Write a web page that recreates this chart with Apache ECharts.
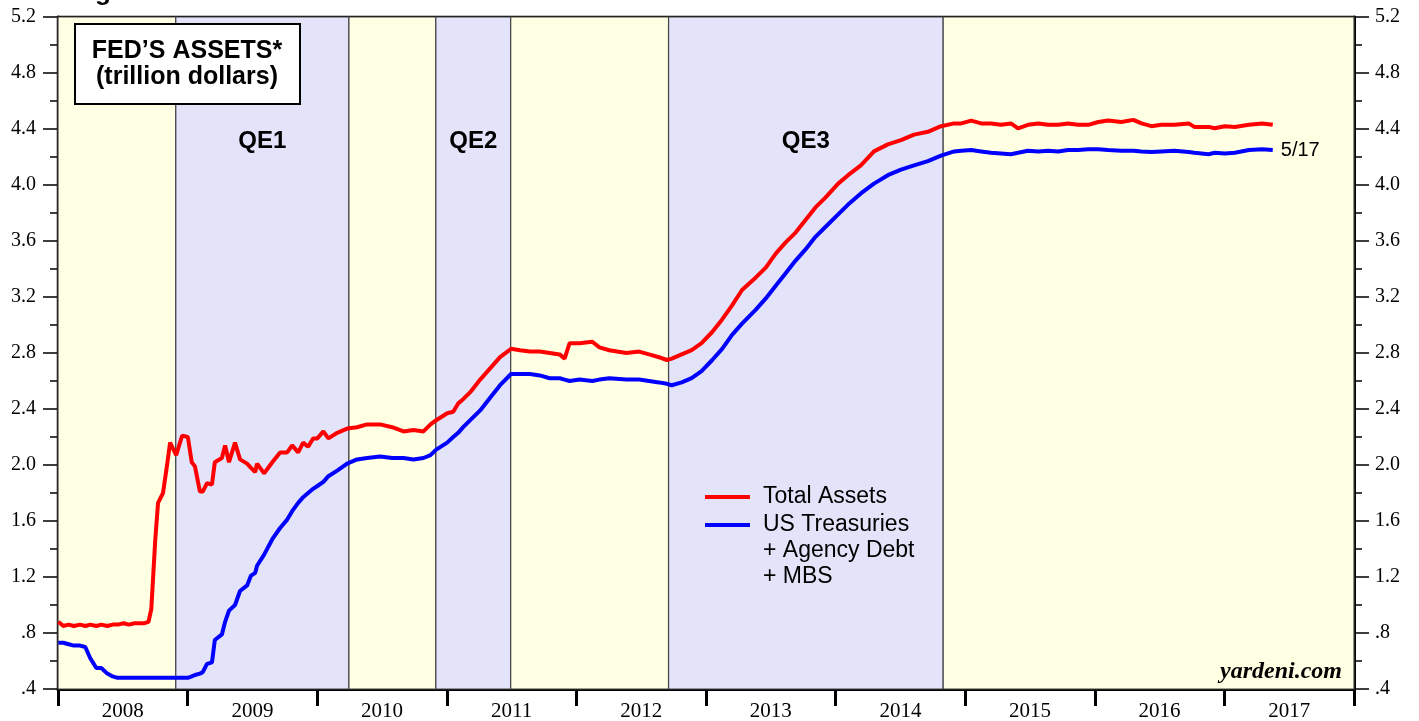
<!DOCTYPE html>
<html>
<head>
<meta charset="utf-8">
<script src="https://cdn.jsdelivr.net/npm/echarts@6/dist/echarts.min.js"></script>
<style>
  html, body { margin: 0; padding: 0; background: #fff; }
  #main { width: 1419px; height: 721px; }
</style>
</head>
<body>
<div id="main"></div>
<script>
// points (trillion dollars)
const dates = [
  '2008-01-02','2008-01-16','2008-01-31','2008-02-15','2008-03-03','2008-03-18','2008-04-01','2008-04-18',
  '2008-05-02','2008-05-19','2008-06-03','2008-06-17','2008-07-04','2008-07-18','2008-08-04','2008-08-18',
  '2008-09-01','2008-09-12','2008-09-20','2008-10-01','2008-10-09','2008-10-23','2008-11-04','2008-11-12',
  '2008-11-29','2008-12-16','2009-01-01','2009-01-12','2009-01-21','2009-02-04','2009-02-12','2009-02-24',
  '2009-03-10','2009-03-18','2009-04-07','2009-04-16','2009-04-27','2009-05-14','2009-05-28','2009-06-17',
  '2009-06-28','2009-07-10','2009-07-15','2009-08-04','2009-08-27','2009-09-18','2009-10-08','2009-10-22',
  '2009-11-08','2009-11-22','2009-12-06','2009-12-20','2010-01-01','2010-01-18','2010-02-01','2010-02-26',
  '2010-03-26','2010-04-23','2010-05-21','2010-06-27','2010-07-31','2010-09-01','2010-09-29','2010-10-27',
  '2010-11-16','2010-12-02','2011-01-02','2011-01-19','2011-02-02','2011-02-16','2011-03-08','2011-04-05',
  '2011-05-03','2011-05-31','2011-07-01','2011-07-26','2011-08-23','2011-09-20','2011-10-18','2011-11-15',
  '2011-11-29','2011-12-13','2012-01-10','2012-02-15','2012-03-06','2012-04-03','2012-05-21','2012-06-26',
  '2012-07-24','2012-08-21','2012-09-12','2012-09-26','2012-10-24','2012-11-21','2012-12-19','2013-01-18',
  '2013-02-15','2013-03-15','2013-04-12','2013-05-21','2013-06-18','2013-07-16','2013-08-13','2013-09-10',
  '2013-10-08','2013-11-05','2013-12-03','2014-01-08','2014-02-05','2014-03-13','2014-04-19','2014-05-28',
  '2014-07-04','2014-08-10','2014-09-18','2014-10-25','2014-12-01','2014-12-21','2015-01-18','2015-02-15',
  '2015-03-15','2015-04-12','2015-05-10','2015-05-30','2015-06-27','2015-07-26','2015-08-23','2015-09-20',
  '2015-10-18','2015-11-15','2015-12-14','2016-01-11','2016-02-08','2016-03-16','2016-04-19','2016-05-12',
  '2016-06-09','2016-07-07','2016-08-13','2016-09-22','2016-10-08','2016-11-17','2016-12-04','2017-01-02',
  '2017-01-30','2017-03-11','2017-04-17','2017-05-17'
];
const totalAssets = [
  0.88,0.85,0.86,0.85,0.86,0.85,0.86,0.85,
  0.86,0.85,0.86,0.86,0.87,0.86,0.87,0.87,
  0.87,0.88,0.97,1.46,1.73,1.80,2.01,2.16,
  2.07,2.21,2.20,2.02,1.99,1.81,1.81,1.87,
  1.86,2.02,2.05,2.14,2.02,2.16,2.04,2.01,
  1.98,1.95,2.01,1.94,2.02,2.09,2.09,2.14,
  2.09,2.16,2.13,2.19,2.19,2.24,2.19,2.23,
  2.26,2.27,2.29,2.29,2.27,2.24,2.25,2.24,
  2.29,2.32,2.37,2.38,2.44,2.47,2.52,2.61,
  2.69,2.77,2.83,2.82,2.81,2.81,2.80,2.79,
  2.76,2.87,2.87,2.88,2.84,2.82,2.80,2.81,
  2.79,2.77,2.75,2.76,2.79,2.82,2.87,2.95,
  3.04,3.14,3.25,3.34,3.41,3.51,3.59,3.66,
  3.75,3.84,3.91,4.01,4.07,4.14,4.24,4.29,
  4.32,4.36,4.38,4.42,4.44,4.44,4.46,4.44,
  4.44,4.43,4.44,4.405,4.43,4.44,4.43,4.43,
  4.44,4.43,4.43,4.45,4.46,4.45,4.465,4.44,
  4.42,4.43,4.43,4.44,4.415,4.415,4.405,4.42,
  4.415,4.43,4.44,4.43
];
const securities = [
  0.73,0.73,0.72,0.71,0.71,0.70,0.62,0.55,
  0.55,0.51,0.49,0.48,0.48,0.48,0.48,0.48,
  0.48,0.48,0.48,0.48,0.48,0.48,0.48,0.48,
  0.48,0.48,0.48,0.49,0.50,0.51,0.52,0.58,
  0.59,0.75,0.79,0.88,0.96,1.00,1.10,1.14,
  1.21,1.23,1.28,1.36,1.47,1.55,1.61,1.67,
  1.73,1.77,1.80,1.83,1.85,1.88,1.92,1.96,
  2.01,2.04,2.05,2.06,2.05,2.05,2.04,2.05,
  2.07,2.11,2.16,2.20,2.23,2.27,2.32,2.39,
  2.48,2.57,2.65,2.65,2.65,2.64,2.62,2.62,
  2.61,2.60,2.61,2.60,2.61,2.62,2.61,2.61,
  2.60,2.59,2.58,2.57,2.59,2.62,2.67,2.75,
  2.83,2.93,3.01,3.11,3.19,3.28,3.37,3.46,
  3.54,3.63,3.70,3.79,3.86,3.94,4.01,4.07,
  4.11,4.14,4.17,4.21,4.24,4.245,4.25,4.24,
  4.23,4.225,4.22,4.23,4.245,4.24,4.245,4.24,
  4.25,4.25,4.255,4.255,4.25,4.245,4.245,4.24,
  4.235,4.24,4.245,4.235,4.23,4.22,4.23,4.225,
  4.23,4.25,4.255,4.25
];
const years = ['2008','2009','2010','2011','2012','2013','2014','2015','2016','2017'];
// shaded periods: [start, end, label]
const periods = [
  ['2008-01-01', '2008-11-28', ''],
  ['2008-11-28', '2010-03-31', 'QE1'],
  ['2010-03-31', '2010-12-01', ''],
  ['2010-12-01', '2011-06-30', 'QE2'],
  ['2011-06-30', '2012-09-17', ''],
  ['2012-09-17', '2014-10-31', 'QE3'],
  ['2014-10-31', '2018-01-01', '']
];

const SANS = '"Liberation Sans", Arial, Helvetica, sans-serif';
const SERIF = '"Liberation Serif", "Times New Roman", serif';

function yLabel(v) {
  const s = v.toFixed(1);
  return s.charAt(0) === '0' ? s.slice(1) : s;
}

function yAxisOpt(pos, margin) {
  return {
    type: 'value', position: pos, min: 0.4, max: 5.2, interval: 0.4,
    axisLine: { show: true, lineStyle: { color: '#000', width: 3 } },
    axisTick: { show: true, length: 15, lineStyle: { color: '#000', width: 1.5 } },
    minorTick: { show: true, splitNumber: 2, length: 8, lineStyle: { color: '#000', width: 1.5 } },
    splitLine: { show: false },
    axisLabel: { formatter: yLabel, margin: margin, fontFamily: SERIF, fontSize: 20, color: '#000' }
  };
}

const bands = periods.map(p => [
  {
    xAxis: p[0],
    itemStyle: { color: p[2] ? '#E3E3FA' : '#FFFFE3', borderColor: '#444', borderWidth: 1.2 },
    label: {
      show: !!p[2], formatter: p[2], position: 'insideTop', distance: 113,
      fontFamily: SANS, fontWeight: 'bold', fontSize: 24, color: '#000'
    }
  },
  { xAxis: p[1] }
]);

const chart = echarts.init(document.getElementById('main'));
chart.setOption({
  animation: false,
  backgroundColor: '#fff',
  grid: {
    left: 58, top: 17, width: 1296, height: 672,
    containLabel: false, outerBoundsMode: 'none',
    show: true, borderColor: '#000', borderWidth: 2.5, backgroundColor: 'transparent'
  },
  xAxis: [
    { type: 'time', min: '2008-01-01', max: '2018-01-01', show: false },
    {
      type: 'category', data: years, position: 'bottom', boundaryGap: true,
      axisLine: { show: true, lineStyle: { color: '#000', width: 3 } },
      axisTick: { show: true, length: 17, lineStyle: { color: '#000', width: 3 } },
      splitLine: { show: false },
      axisLabel: { fontFamily: SERIF, fontSize: 21, color: '#000', margin: 12 }
    }
  ],
  yAxis: [yAxisOpt('left', 22), yAxisOpt('right', 21)],
  series: [
    {
      type: 'line', xAxisIndex: 0, yAxisIndex: 0, data: [], z: 1, silent: true,
      markArea: { silent: true, data: bands }
    },
    {
      name: 'Total Assets', type: 'line', xAxisIndex: 0, yAxisIndex: 0, z: 4,
      data: dates.map((d, i) => [d, totalAssets[i]]),
      showSymbol: false, lineStyle: { color: '#FF0000', width: 4 }
    },
    {
      name: 'US Treasuries + Agency Debt + MBS', type: 'line', xAxisIndex: 0, yAxisIndex: 0, z: 4,
      data: dates.map((d, i) => [d, securities[i]]),
      showSymbol: false, lineStyle: { color: '#0000FF', width: 4 },
      endLabel: { show: true, formatter: '5/17', distance: 8, fontFamily: SANS, fontSize: 20, color: '#000' }
    }
  ],
  graphic: [
    { type: 'text', x: 72, y: 6, style: { text: 'Figure 1:', font: 'bold 26px ' + SANS, fill: '#000', textVerticalAlign: 'bottom' } },
    { type: 'rect', shape: { x: 75, y: 24, width: 225, height: 80 }, style: { fill: '#fff', stroke: '#000', lineWidth: 2 }, z: 10 },
    { type: 'text', x: 187, y: 51, z: 11, style: { text: 'FED’S ASSETS*', font: 'bold 25px ' + SANS, fill: '#000', textAlign: 'center', textVerticalAlign: 'middle' } },
    { type: 'text', x: 187, y: 77, z: 11, style: { text: '(trillion dollars)', font: 'bold 25px ' + SANS, fill: '#000', textAlign: 'center', textVerticalAlign: 'middle' } },
    { type: 'line', shape: { x1: 705, y1: 497, x2: 750, y2: 497 }, style: { stroke: '#FF0000', lineWidth: 4 }, z: 10 },
    { type: 'line', shape: { x1: 705, y1: 525, x2: 750, y2: 525 }, style: { stroke: '#0000FF', lineWidth: 4 }, z: 10 },
    { type: 'text', x: 763, y: 497, z: 10, style: { text: 'Total Assets', font: '23px ' + SANS, fill: '#000', textVerticalAlign: 'middle' } },
    { type: 'text', x: 763, y: 525, z: 10, style: { text: 'US Treasuries', font: '23px ' + SANS, fill: '#000', textVerticalAlign: 'middle' } },
    { type: 'text', x: 763, y: 551, z: 10, style: { text: '+ Agency Debt', font: '23px ' + SANS, fill: '#000', textVerticalAlign: 'middle' } },
    { type: 'text', x: 763, y: 577, z: 10, style: { text: '+ MBS', font: '23px ' + SANS, fill: '#000', textVerticalAlign: 'middle' } },
    { type: 'text', x: 1342, y: 684, z: 10, style: { text: 'yardeni.com', font: 'italic bold 24px ' + SERIF, fill: '#000', textAlign: 'right', textVerticalAlign: 'bottom' } }
  ]
});
</script>
</body>
</html>
